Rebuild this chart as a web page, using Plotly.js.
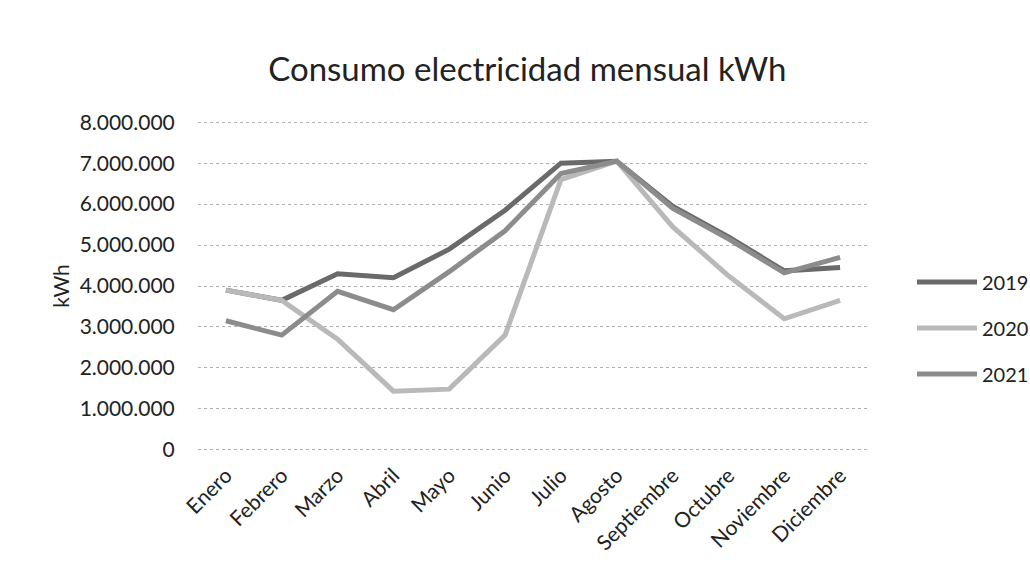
<!DOCTYPE html>
<html>
<head>
<meta charset="utf-8">
<script src="https://cdn.plot.ly/plotly-3.0.1.min.js"></script>
<style>html,body{margin:0;padding:0;background:#fff;}#chart{width:1030px;height:568px;}</style>
</head>
<body>
<div id="chart"></div>
<script>
const months = ["Enero","Febrero","Marzo","Abril","Mayo","Junio","Julio","Agosto","Septiembre","Octubre","Noviembre","Diciembre"];
const y2019 = [3900000, 3650000, 4300000, 4200000, 4900000, 5850000, 7000000, 7050000, 5950000, 5200000, 4370000, 4450000];
const y2020 = [3900000, 3650000, 2700000, 1430000, 1480000, 2800000, 6600000, 7050000, 5450000, 4250000, 3200000, 3650000];
const y2021 = [3150000, 2800000, 3870000, 3420000, 4350000, 5350000, 6750000, 7050000, 5900000, 5150000, 4320000, 4700000];
const yTicks = [0, 1000000, 2000000, 3000000, 4000000, 5000000, 6000000, 7000000, 8000000];
const yTickText = ["0","1.000.000","2.000.000","3.000.000","4.000.000","5.000.000","6.000.000","7.000.000","8.000.000"];
const seriesNames = ["2019","2020","2021"];
const seriesColors = ["#6a6a6a","#b9b9b9","#8c8c8c"];

const seriesValues = [y2019, y2020, y2021];
const traces = seriesValues.map((vals, i) => ({
  type: "scatter",
  mode: "lines",
  x: months,
  y: vals,
  name: seriesNames[i],
  legendgroup: "g" + i,
  line: {color: seriesColors[i], width: 5},
  hoverinfo: "skip"
}));

const FONT = "Lato, 'Open Sans', sans-serif";
const layout = {
  width: 1030, height: 568,
  paper_bgcolor: "#fff", plot_bgcolor: "#fff",
  margin: {l: 198, r: 162, t: 119, b: 115, autoexpand: false},
  font: {family: FONT, color: "#222"},
  title: {text: "Consumo electricidad mensual kWh", font: {family: FONT, size: 33, color: "#222"},
          x: 0.512, xanchor: "center", y: 0.877, yanchor: "middle"},
  xaxis: {
    type: "category", range: [-0.5, 11.5], tickangle: -45,
    tickfont: {family: FONT, size: 21, color: "#222"},
    showgrid: false, zeroline: false, showline: false,
    ticks: "outside", ticklen: 1, tickcolor: "rgba(0,0,0,0)"
  },
  yaxis: {
    range: [-80000, 8080000], tickvals: yTicks, ticktext: yTickText,
    tickfont: {family: FONT, size: 21, color: "#222"},
    showgrid: true, gridcolor: "#b0b0b0", griddash: "dot", gridwidth: 1,
    zeroline: false, showline: false,
    ticks: "outside", ticklen: 18, tickcolor: "rgba(0,0,0,0)",
    title: {text: "kWh", font: {family: FONT, size: 21, color: "#222"}, standoff: 4}
  },
  showlegend: true,
  legend: {
    xref: "container", yref: "container",
    x: 912 / 1030, xanchor: "left", y: (568 - 328) / 568, yanchor: "middle",
    traceorder: "grouped", tracegroupgap: 17, itemwidth: 60,
    font: {family: FONT, size: 20, color: "#222"}, bgcolor: "rgba(0,0,0,0)"
  }
};

Plotly.newPlot("chart", traces, layout, {staticPlot: true, displayModeBar: false});
</script>
</body>
</html>
